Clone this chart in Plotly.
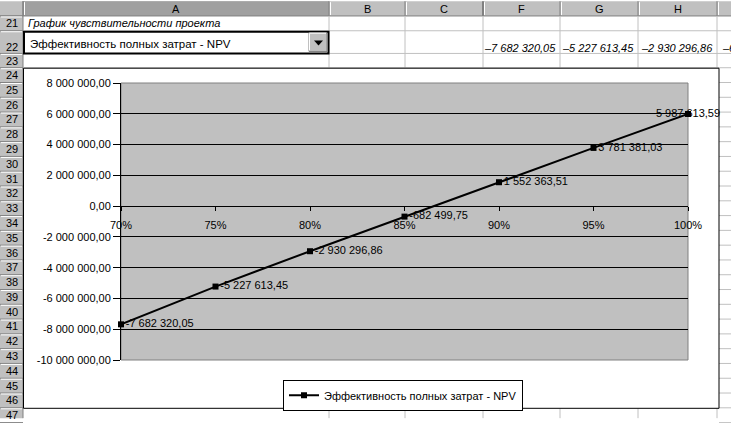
import plotly.graph_objects as go

# данные листа "График чувствительности проекта"
levels = ["70%", "75%", "80%", "85%", "90%", "95%", "100%"]
npv = [-7682320.05, -5227613.45, -2930296.86, -682499.75, 1552363.51, 3781381.03, 5987613.59]
y_ticks = [8e6, 6e6, 4e6, 2e6, 0, -2e6, -4e6, -6e6, -8e6, -10e6]
series_name = "Эффективность полных затрат - NPV"
sheet_title = "График чувствительности проекта"
col_names = ["A", "B", "C", "F", "G", "H"]
row_names = [str(r) for r in range(21, 48)]

FONT = "Liberation Sans, Arial, sans-serif"


def money(v, minus="-"):
    s = f"{abs(v):,.2f}".replace(",", " ").replace(".", ",")
    return (minus if v < 0 else "") + s


# пиксели окна -> доли области построения
W, H = 731, 423
PL, PR, PT, PB = 121, 688, 83, 364


def px(x):
    return (x - PL) / (PR - PL)


def py(y):
    return (PB - y) / (PB - PT)


shapes = []
notes = []


def box(x0, y0, x1, y1, fill="rgba(0,0,0,0)", line=None, lw=1):
    shapes.append(dict(type="rect", xref="paper", yref="paper",
                       x0=px(x0), y0=py(y0), x1=px(x1), y1=py(y1),
                       fillcolor=fill, layer="below",
                       line=dict(color=line or "rgba(0,0,0,0)", width=lw if line else 0)))


def seg(x0, y0, x1, y1, color, lw=1):
    shapes.append(dict(type="line", xref="paper", yref="paper",
                       x0=px(x0), y0=py(y0), x1=px(x1), y1=py(y1),
                       line=dict(color=color, width=lw), layer="below"))


def text(x, y, s, anchor="center", size=11, italic=False):
    if italic:
        s = "<i>" + s + "</i>"
    notes.append(dict(xref="paper", yref="paper", x=px(x), y=py(y), text=s,
                      showarrow=False, xanchor=anchor, yanchor="middle",
                      borderpad=0, font=dict(family=FONT, size=size, color="black")))


# --- шапка столбцов
col_edges = [23, 329, 405, 483, 560, 638, 717]
box(0, 0, W, 15, fill="#c0c0c0")
box(23, 0, 329, 15, fill="#a0a0a0")
for x in col_edges:
    seg(x, 0, x, 15, "#808080", 2 if x == 483 else 1)
    seg(x + 1.5, 1, x + 1.5, 14, "white")
seg(0, 15, W, 15, "#808080")
for i, name in enumerate(col_names):
    text((col_edges[i] + col_edges[i + 1]) / 2, 7.5, name)

# --- номера строк
row_edges = [15, 30, 53] + [67.5 + 15 * k for k in range(25)]
box(0, 15, 23, H, fill="#c0c0c0")
for y in row_edges:
    seg(0, y, 23, y, "#808080")
    seg(1, y + 1, 22, y + 1, "white")
seg(23, 0, 23, H, "#808080")
for i, name in enumerate(row_names):
    if i == 1:
        yc = 46
    else:
        yc = (row_edges[i] + row_edges[i + 1]) / 2
    text(11.5, yc, name)

# --- сетка ячеек вокруг диаграммы
for y in [30, 53, 67.5]:
    seg(23, y, W, y, "#c0c0c0")
for x in col_edges[1:]:
    seg(x, 15, x, 68, "#c0c0c0")
    seg(x, 413, x, H, "#c0c0c0")
for y in row_edges[4:]:
    seg(719, y, W, y, "#c0c0c0")

# --- ячейки A21, A22 (список), F22:I22
text(27, 22.5, sheet_title, "left", italic=True)
box(24, 31, 328.5, 53, fill="white", line="black", lw=2)
text(29, 43, series_name, "left", size=11.5)
box(309, 32, 327, 51, fill="#c0c0c0", line="#808080")
seg(309.5, 32.5, 326, 32.5, "white")
seg(309.5, 32.5, 309.5, 50, "white")
shapes.append(dict(type="path", xref="paper", yref="paper", layer="below",
                   path=f"M {px(314)},{py(40)} L {px(323)},{py(40)} L {px(318.5)},{py(45)} Z",
                   fillcolor="black", line=dict(width=0)))
for i, xr in enumerate([557, 635, 714]):
    text(xr, 47, money(npv[i], "–"), "right", italic=True)
text(721, 47, money(npv[3], "–"), "left", italic=True)

# --- область диаграммы и область построения
box(23.5, 68, 719, 413, fill="white", line="black")
box(PL, PT, PR, PB, fill="#c0c0c0", line="#808080")

fig = go.Figure()
fig.add_trace(go.Scatter(
    x=levels, y=npv, name=series_name,
    mode="lines+markers+text",
    text=[money(v) for v in npv],
    textposition=["middle right"] * (len(npv) - 1) + ["middle center"],
    textfont=dict(family=FONT, size=11, color="black"),
    line=dict(color="black", width=2),
    marker=dict(symbol="square", size=6, color="black"),
    cliponaxis=False,
))

fig.update_layout(
    width=W, height=H, autosize=False,
    margin=dict(l=PL, r=W - PR, t=PT, b=H - PB),
    paper_bgcolor="white", plot_bgcolor="rgba(0,0,0,0)",
    font=dict(family=FONT, size=11, color="black"),
    shapes=shapes, annotations=notes,
    showlegend=True,
    legend=dict(orientation="h", x=px(403), y=py(384), xanchor="center", yanchor="top",
                bgcolor="white", bordercolor="black", borderwidth=1,
                itemwidth=30, font=dict(family=FONT, size=11)),
)
fig.update_xaxes(type="category", range=[0, len(levels) - 1],
                 anchor="free", position=10 / 18,
                 showline=True, linecolor="black", linewidth=1,
                 ticks="outside", ticklen=4, tickcolor="black",
                 showgrid=False, zeroline=False, ticklabelstandoff=5)
fig.update_yaxes(range=[-10e6, 8e6], tickvals=y_ticks,
                 ticktext=[money(v) for v in y_ticks],
                 showline=True, linecolor="black", linewidth=1,
                 ticks="outside", ticklen=7, tickcolor="black",
                 showgrid=True, gridcolor="black", gridwidth=1, zeroline=False)

# убрать отступ body, чтобы картинка начиналась с левого верхнего угла окна
fig.write_html("out.html", config={"displayModeBar": False},
               post_script="document.body.style.margin='0px';")
